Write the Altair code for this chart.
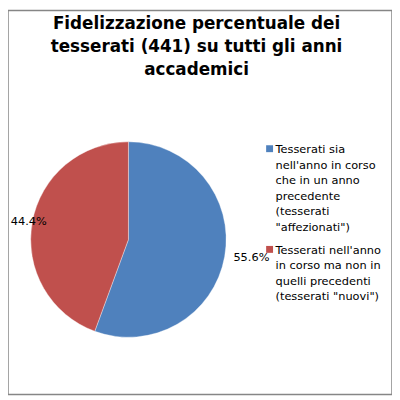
import altair as alt
import pandas as pd

TITLE_LINES = ["Fidelizzazione percentuale dei", "tesserati (441) su tutti gli anni", "accademici"]
CATEGORIES = ["affezionati", "nuovi"]
LEGEND_LINES = [
    ["Tesserati sia", "nell'anno in corso", "che in un anno", "precedente", "(tesserati", "\"affezionati\")"],
    ["Tesserati nell'anno", "in corso ma non in", "quelli precedenti", "(tesserati \"nuovi\")"],
]
SHARES = [55.6, 44.4]
LABELS = ["55.6%", "44.4%"]
COLORS = ["#4F81BD", "#C0504D"]

df = pd.DataFrame({
    "cat": CATEGORIES,
    "idx": list(range(len(CATEGORIES))),
    "share": SHARES,
    "label": LABELS,
    "legend": ["\n".join(l) for l in LEGEND_LINES],
})
title_df = pd.DataFrame({"t": ["\n".join(TITLE_LINES)]})

CX, CY, R = 122, 232, 99
FONT = "DejaVu Sans"
color = alt.Color("cat:N", scale=alt.Scale(domain=CATEGORIES, range=COLORS), legend=None)

base = alt.Chart(df)

pie = base.mark_arc(radius=R, stroke="white", strokeWidth=0.6, strokeOpacity=0.6).encode(
    theta=alt.Theta("share:Q", stack=True),
    color=color,
    order=alt.Order("idx:Q"),
    x=alt.value(CX),
    y=alt.value(CY),
)

lab_base = base.transform_window(
    cum="sum(share)", sort=[alt.SortField("idx")], frame=[None, 0]
).transform_calculate(mid="datum.cum - datum.share / 2")

theta_mid = alt.Theta("mid:Q", scale=alt.Scale(domain=[0, 100]))

lab_blue = lab_base.transform_filter(alt.datum.idx == 0).mark_text(
    radius=108, align="left", baseline="middle", font=FONT, fontSize=11.5, color="#000000"
).encode(theta=theta_mid, text="label:N", x=alt.value(CX), y=alt.value(CY))

lab_red = lab_base.transform_filter(alt.datum.idx == 1).mark_text(
    radius=84, align="right", baseline="middle", dy=-3, font=FONT, fontSize=11.5, color="#000000"
).encode(theta=theta_mid, text="label:N", x=alt.value(CX), y=alt.value(CY))

legend_y = alt.Y("idx:O", scale=alt.Scale(type="point", range=[140, 242], padding=0), axis=None)

leg_sq = base.mark_square(size=49, opacity=1).encode(
    x=alt.value(265), y=legend_y, color=color
)

leg_txt = base.mark_text(
    align="left", baseline="alphabetic", lineBreak="\n", lineHeight=15.7,
    font=FONT, fontSize=11.5, color="#000000", dy=4.5
).encode(x=alt.value(271), y=legend_y, text="legend:N")

title = alt.Chart(title_df).mark_text(
    align="center", baseline="alphabetic", lineBreak="\n", lineHeight=23,
    font=FONT, fontSize=17, fontWeight="bold", color="#000000"
).encode(x=alt.value(191), y=alt.value(19), text="t:N")

chart = alt.layer(pie, lab_blue, lab_red, leg_sq, leg_txt, title).properties(
    width=389, height=389, padding=0, autosize=alt.AutoSizeParams(type="none")
).configure_view(stroke="#868686", strokeWidth=1.5)

chart.save("out.html", embed_options={"renderer": "svg", "actions": False})
